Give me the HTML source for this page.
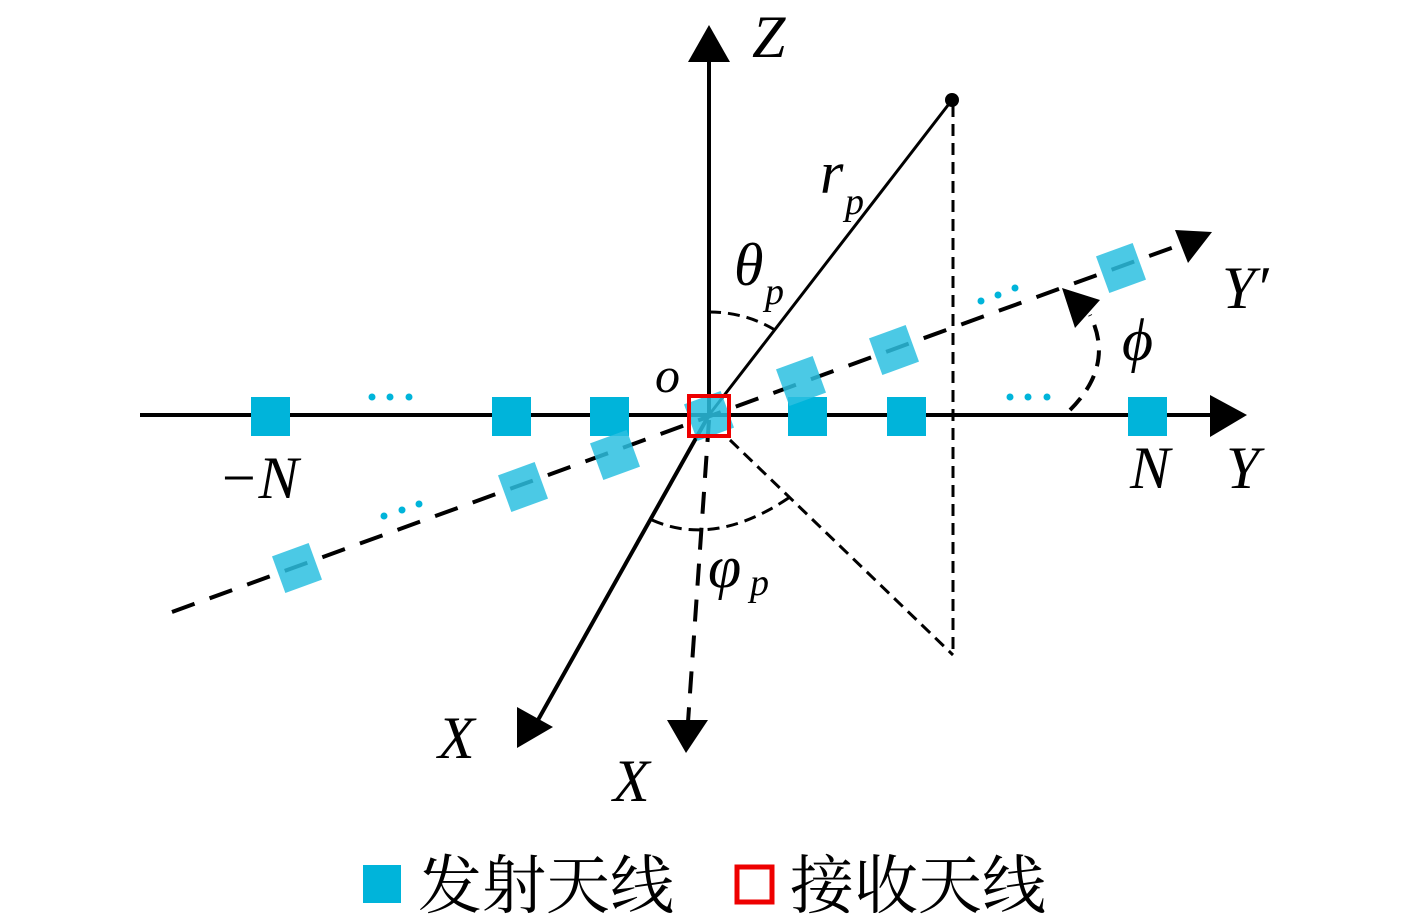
<!DOCTYPE html>
<html><head><meta charset="utf-8"><style>
html,body{margin:0;padding:0;background:#fff;}
svg{display:block;}
.m{font-family:"Liberation Serif","DejaVu Serif",serif;font-style:italic;fill:#000;}
.c{font-family:"Noto Serif CJK SC","Liberation Serif",serif;fill:#000;}
</style></head><body>
<svg width="1417" height="919" viewBox="0 0 1417 919" xmlns="http://www.w3.org/2000/svg">
<line x1="140" y1="415" x2="1215" y2="415" stroke="#000" stroke-width="4"/>
<polygon points="1210,395 1247,415 1210,437" fill="#000"/>
<line x1="709" y1="415" x2="709" y2="58" stroke="#000" stroke-width="4"/>
<polygon points="688,62 709,25 730,62" fill="#000"/>
<line x1="709" y1="415" x2="952" y2="100" stroke="#000" stroke-width="3"/>
<circle cx="952" cy="100" r="7" fill="#000"/>
<line x1="953" y1="105" x2="953" y2="655" stroke="#000" stroke-width="3" stroke-dasharray="12,7"/>
<line x1="730" y1="440" x2="953" y2="655" stroke="#000" stroke-width="3" stroke-dasharray="12,7"/>
<line x1="709" y1="415" x2="538" y2="720" stroke="#000" stroke-width="4"/>
<polygon points="517,707 553,727 517,748" fill="#000"/>
<line x1="709" y1="420" x2="688" y2="722" stroke="#000" stroke-width="4" stroke-dasharray="22,14"/>
<polygon points="667,720 708,720 686,753" fill="#000"/>
<line x1="172" y1="612" x2="1185" y2="243" stroke="#000" stroke-width="4" stroke-dasharray="24,16"/>
<polygon points="1175,230 1212,232 1188,263" fill="#000"/>
<path d="M709,312 Q745,312 775,330" fill="none" stroke="#000" stroke-width="3" stroke-dasharray="12,7"/>
<path d="M652,520 Q715,548 790,497" fill="none" stroke="#000" stroke-width="3" stroke-dasharray="12,7"/>
<path d="M1070,410 Q1115,365 1090,315" fill="none" stroke="#000" stroke-width="4" stroke-dasharray="16,10"/>
<polygon points="1062,288 1100,300 1075,328" fill="#000"/>
<g fill="#00b4da">
<rect x="251" y="397" width="39" height="39"/>
<rect x="492" y="397" width="39" height="39"/>
<rect x="590" y="397" width="39" height="39"/>
<rect x="788" y="397" width="39" height="39"/>
<rect x="887" y="397" width="39" height="39"/>
<rect x="1128" y="397" width="39" height="39"/>
</g>
<g fill="#2cbfe0" fill-opacity="0.85">
<rect x="-19.5" y="-19.5" width="39" height="39" transform="translate(297,568) rotate(-20)"/>
<rect x="-19.5" y="-19.5" width="39" height="39" transform="translate(523,487) rotate(-20)"/>
<rect x="-19.5" y="-19.5" width="39" height="39" transform="translate(615,455) rotate(-20)"/>
<rect x="-19.5" y="-19.5" width="39" height="39" transform="translate(801,381) rotate(-20)"/>
<rect x="-19.5" y="-19.5" width="39" height="39" transform="translate(894,350) rotate(-20)"/>
<rect x="-19.5" y="-19.5" width="39" height="39" transform="translate(1121,268) rotate(-20)"/>
<rect x="-19.5" y="-19.5" width="39" height="39" transform="translate(709,416) rotate(-20)"/>
</g>
<rect x="689" y="396" width="40" height="40" fill="none" stroke="#e00" stroke-width="4"/>
<g fill="#00b4da">
<circle cx="372" cy="397" r="3.5"/><circle cx="390" cy="397" r="3.5"/><circle cx="409" cy="397" r="3.5"/>
<circle cx="1010" cy="397" r="3.5"/><circle cx="1028" cy="397" r="3.5"/><circle cx="1047" cy="397" r="3.5"/>
<circle cx="384" cy="516" r="3.5"/><circle cx="402" cy="510" r="3.5"/><circle cx="419" cy="504" r="3.5"/>
<circle cx="981" cy="301" r="3.5"/><circle cx="998" cy="295" r="3.5"/><circle cx="1015" cy="288" r="3.5"/>
</g>
<text class="m" x="752" y="57" font-size="60">Z</text>
<text class="m" x="1226" y="488" font-size="60">Y</text>
<text class="m" x="1130" y="488" font-size="60">N</text>
<text class="m" x="218" y="498" font-size="60">−N</text>
<text class="m" x="1222" y="308" font-size="60">Y′</text>
<text class="m" x="1122" y="360" font-size="60">ϕ</text>
<text class="m" x="655" y="392" font-size="50">o</text>
<text class="m" x="820" y="193" font-size="60">r</text>
<text class="m" x="845" y="214" font-size="38">p</text>
<text class="m" x="734" y="285" font-size="60">θ</text>
<text class="m" x="765" y="304" font-size="38">p</text>
<text class="m" x="708" y="587" font-size="60">φ</text>
<text class="m" x="750" y="595" font-size="38">p</text>
<text class="m" x="438" y="758" font-size="60">X</text>
<text class="m" x="613" y="801" font-size="60">X</text>
<rect x="363" y="865" width="38" height="38" fill="#00b4da"/>
<text class="c" x="418" y="908" font-size="64">发射天线</text>
<rect x="737" y="867" width="35" height="35" fill="none" stroke="#e00" stroke-width="5"/>
<text class="c" x="790" y="908" font-size="64">接收天线</text>
</svg>
</body></html>
